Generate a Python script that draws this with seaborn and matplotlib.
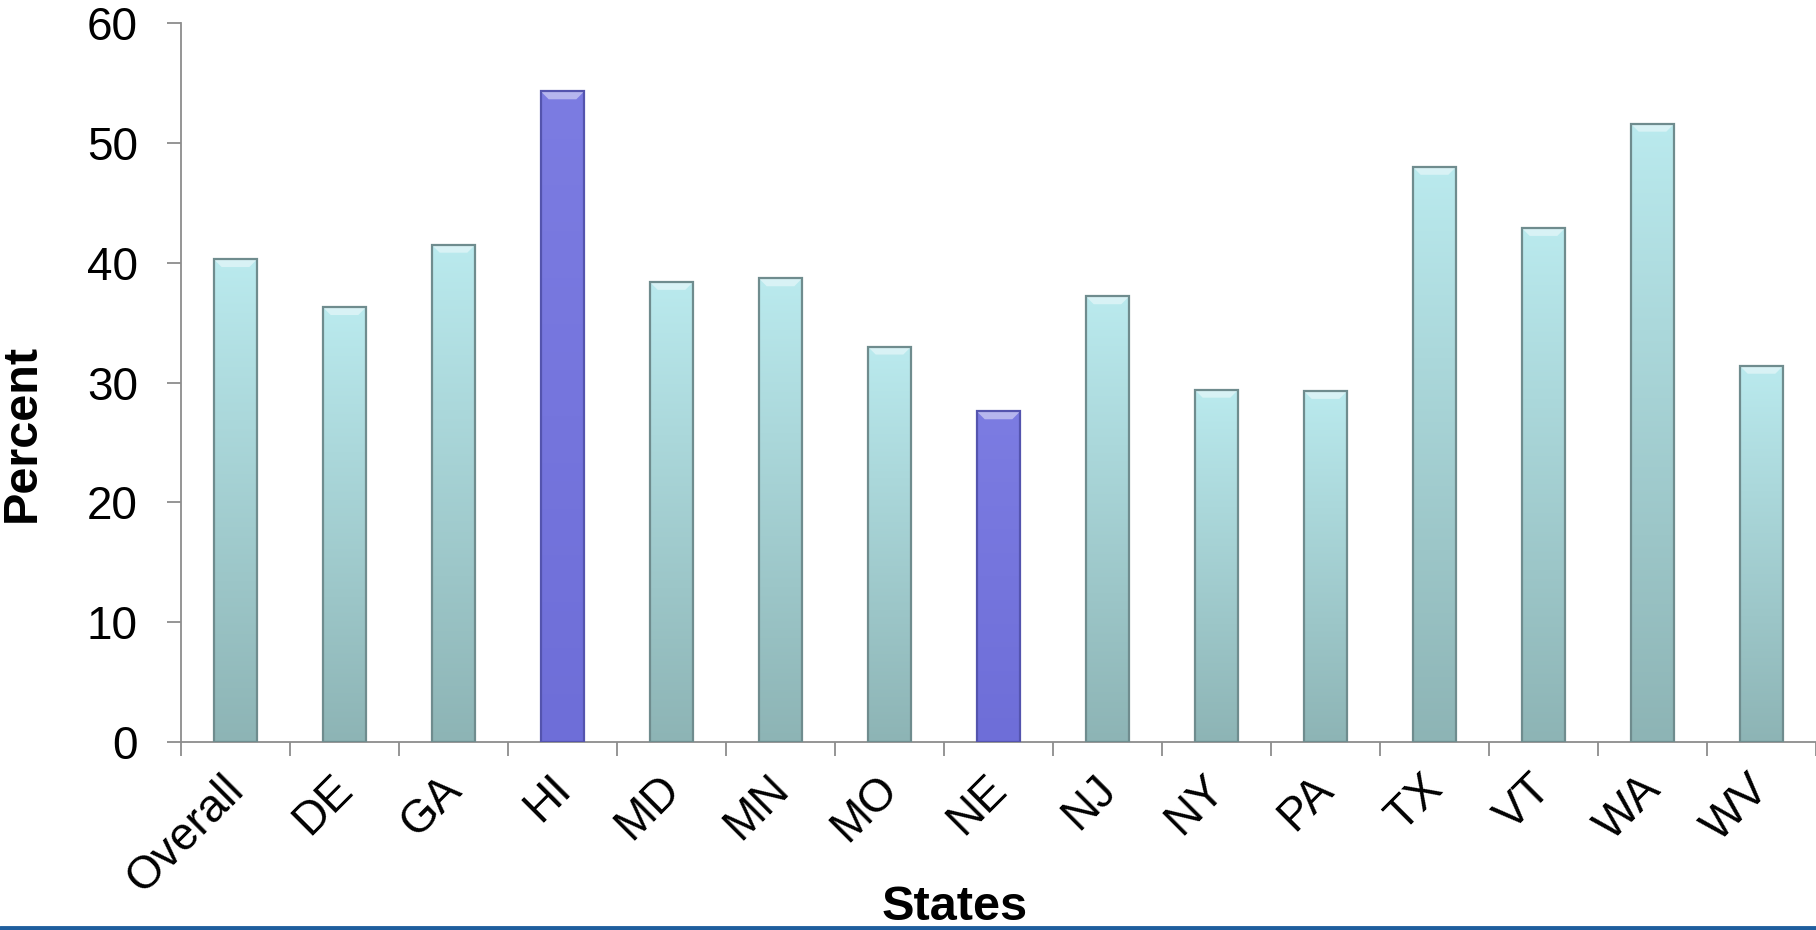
import numpy as np
import matplotlib
matplotlib.use("Agg")
import matplotlib.pyplot as plt
import matplotlib.transforms as mtransforms
from matplotlib.colors import to_rgb
from matplotlib.lines import Line2D
from matplotlib.patches import Polygon
import seaborn as sns

sns.set_style("white")
plt.rcParams['font.family'] = ['Liberation Sans', 'DejaVu Sans']
plt.rcParams['text.color'] = 'black'
plt.rcParams['xtick.color'] = 'black'
plt.rcParams['ytick.color'] = 'black'
plt.rcParams['axes.labelcolor'] = 'black'

# data
states = ['Overall', 'DE', 'GA', 'HI', 'MD', 'MN', 'MO', 'NE',
          'NJ', 'NY', 'PA', 'TX', 'VT', 'WA', 'WV']
percent = [40.3, 36.3, 41.5, 54.3, 38.4, 38.7, 33.0, 27.6,
           37.2, 29.4, 29.3, 48.0, 42.9, 51.6, 31.4]
highlight = ['HI', 'NE']

teal_top, teal_bot, teal_edge = '#BAEAEE', '#8DB4B5', '#6F8C8E'
purp_top, purp_bot, purp_edge = '#7C7CE2', '#6E6ED8', '#5454AE'

fig = plt.figure(figsize=(18.16, 9.30), dpi=100)
ax = fig.add_axes([181 / 1816, 1 - 742 / 930, 1 - 181 / 1816, (742 - 23) / 930])

pal = {s: (purp_bot if s in highlight else teal_bot) for s in states}
sns.barplot(x=states, y=percent, hue=states, palette=pal, legend=False,
            width=0.4, ax=ax, saturation=1)

ax.set_xlim(-0.5, len(states) - 0.5)
ax.set_ylim(0, 60)

# vertical gradient + top bevel on each bar
px_x = 1 / 109.0   # data units per pixel, x
px_y = 1 / 12.0    # data units per pixel, y
for patch, s in zip(ax.patches, states):
    if s in highlight:
        top, bot, edge = purp_top, purp_bot, purp_edge
    else:
        top, bot, edge = teal_top, teal_bot, teal_edge
    t = np.linspace(0, 1, 256)[:, None, None]
    img = (1 - t) * np.array(to_rgb(top)) + t * np.array(to_rgb(bot))
    x0, w, h = patch.get_x(), patch.get_width(), patch.get_height()
    im = ax.imshow(img, extent=[x0, x0 + w, 0, h], origin='upper',
                   aspect='auto', zorder=2, interpolation='bilinear')
    im.set_clip_path(patch)
    dx, dy = 8 * px_x, 8 * px_y
    ax.add_patch(Polygon([(x0, h), (x0 + w, h), (x0 + w - dx, h - dy), (x0 + dx, h - dy)],
                         closed=True, facecolor='white', alpha=0.45, edgecolor='none',
                         zorder=2.5))
    patch.set_facecolor('none')
    patch.set_edgecolor(edge)
    patch.set_linewidth(1.6)
    patch.set_zorder(3)

ax.set_xlim(-0.5, len(states) - 0.5)
ax.set_ylim(0, 60)
ax.set_yticks(np.arange(0, 61, 10))

sns.despine(ax=ax, top=True, right=True)
for sp in ['left', 'bottom']:
    ax.spines[sp].set_color('#8C8C8C')
    ax.spines[sp].set_linewidth(1.3)

ax.tick_params(axis='y', which='major', direction='out', length=10, width=1.3,
               color='#8C8C8C', labelcolor='black', labelsize=33, pad=21, left=True)
ax.tick_params(axis='x', which='major', length=0, labelsize=33, labelcolor='black', pad=18)
ax.set_xticks(np.arange(len(states) + 1) - 0.5, minor=True)
ax.tick_params(axis='x', which='minor', direction='out', length=10, width=1.3,
               color='#8C8C8C', bottom=True)
for lab in ax.get_xticklabels():
    lab.set_rotation(45)
    lab.set_ha('right')
    lab.set_va('top')
    lab.set_transform(lab.get_transform() +
                      mtransforms.ScaledTranslation(17 / 100, 0, fig.dpi_scale_trans))

ax.set_xlabel('States', fontsize=35, fontweight='bold', va='baseline')
ax.set_ylabel('Percent', fontsize=35, fontweight='bold', va='center')
ax.xaxis.set_label_coords(0.473, -0.2476)
ax.yaxis.set_label_coords(-0.0972, 0.430)

# blue rule along the bottom edge
fig.add_artist(Line2D([0, 1], [2.5 / 930, 2.5 / 930], transform=fig.transFigure,
                      color='#1F5E9E', linewidth=3.5))

fig.savefig('out.png', dpi=100)
